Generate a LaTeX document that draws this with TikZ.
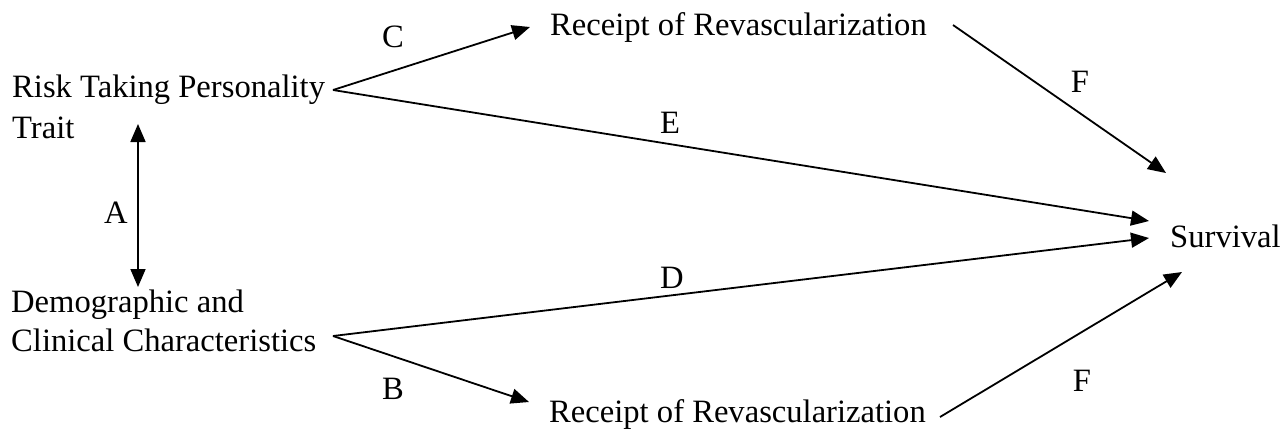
\documentclass[tikz,border=0pt]{standalone}
\usepackage{fontspec}
\setmainfont{Liberation Serif}
\usetikzlibrary{arrows.meta}
\begin{document}
\begin{tikzpicture}[x=1pt,y=-1pt,
  txt/.style={inner sep=0pt,anchor=base west,font=\fontsize{32.6}{40}\selectfont},
  lbl/.style={inner sep=0pt,anchor=base,font=\fontsize{32.6}{40}\selectfont},
  tip/.style={Triangle[length=18pt,width=15pt]},
  conn/.style={line width=1.8pt,-{Triangle[length=18pt,width=15pt]}},
  dconn/.style={line width=1.8pt,{Triangle[length=18pt,width=15pt]}-{Triangle[length=18pt,width=15pt]}}]
\useasboundingbox (0,0) rectangle (1281,432);
% text nodes
\node[txt] (risk) at (12,97) {Risk Taking Personality};
\node[txt] (trait) at (12,138) {Trait};
\node[txt] (demo) at (11,312) {Demographic and};
\node[txt] (clin) at (11,351) {Clinical Characteristics};
\node[txt] (rr1) at (550,35) {Receipt of Revascularization};
\node[txt] (rr2) at (549,422) {Receipt of Revascularization};
\node[txt] (surv) at (1170,247) {Survival};
% labels
\node[lbl] (lC) at (393,47) {C};
\node[lbl] (lE) at (670,133) {E};
\node[lbl] (lF1) at (1080,92) {F};
\node[lbl] (lA) at (116,223) {A};
\node[lbl] (lD) at (672,288) {D};
\node[lbl] (lB) at (393,399) {B};
\node[lbl] (lF2) at (1082,391) {F};
% connector ends
\coordinate (jr) at (333,90);
\coordinate (jd) at (333,336);
\coordinate (rr1in) at (530,27);
\coordinate (rr2in) at (529,402);
\coordinate (f1s) at (953,25);
\coordinate (f2s) at (940,417);
\coordinate (sE) at (1149,221);
\coordinate (sD) at (1149,238);
\coordinate (sF1) at (1166,173);
\coordinate (sF2) at (1182,272);
\coordinate (aT) at (138,124);
\coordinate (aB) at (138,287);
% connectors
\draw[conn] (jr) -- (rr1in);
\draw[conn] (jr) -- (sE);
\draw[conn] (f1s) -- (sF1);
\draw[dconn] (aT) -- (aB);
\draw[conn] (jd) -- (sD);
\draw[conn] (jd) -- (rr2in);
\draw[conn] (f2s) -- (sF2);
\end{tikzpicture}
\end{document}
